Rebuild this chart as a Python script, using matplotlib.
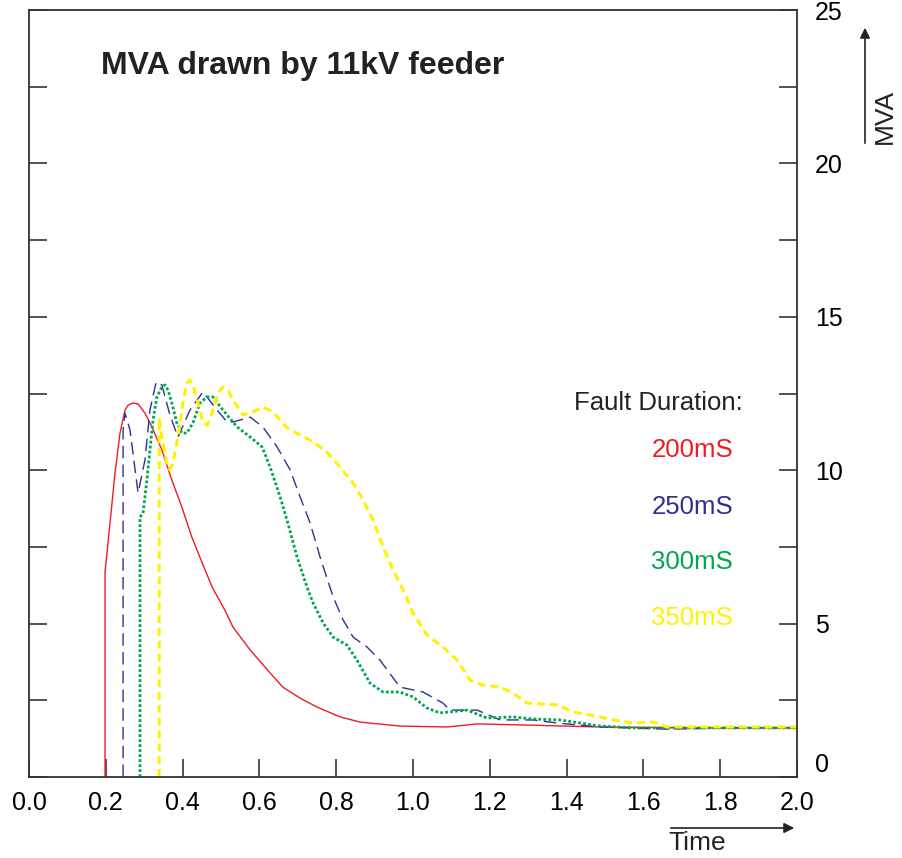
import matplotlib
matplotlib.use("Agg")
import matplotlib.pyplot as plt

plt.rcParams["font.family"] = ["Liberation Sans", "DejaVu Sans"]

# time (s) and MVA for each fault duration
t_200 = [0.198, 0.198, 0.211, 0.224, 0.237, 0.25, 0.258, 0.271, 0.284, 0.302, 0.320,
         0.346, 0.372, 0.398, 0.424, 0.451, 0.477, 0.510, 0.531, 0.576, 0.628, 0.661,
         0.706, 0.750, 0.810, 0.862, 0.966, 1.089, 1.167, 1.305, 1.487, 1.747, 2.0]
mva_200 = [0, 6.68, 8.28, 9.91, 11.21, 11.96, 12.12, 12.19, 12.16, 11.86, 11.41,
           10.66, 9.68, 8.80, 7.82, 6.98, 6.19, 5.44, 4.89, 4.14, 3.39, 2.93,
           2.57, 2.28, 1.96, 1.79, 1.66, 1.63, 1.73, 1.69, 1.63, 1.60, 1.60]

t_250 = [0.245, 0.245, 0.25, 0.263, 0.284, 0.302, 0.315, 0.331, 0.346, 0.367, 0.388,
         0.419, 0.453, 0.490, 0.516, 0.531, 0.576, 0.609, 0.646, 0.680, 0.706, 0.732,
         0.758, 0.792, 0.818, 0.844, 0.880, 0.914, 0.966, 1.026, 1.078, 1.096, 1.167,
         1.227, 1.3125, 1.375, 1.487, 1.661, 1.833, 2.0]
mva_250 = [0, 11.31, 11.86, 11.31, 9.26, 10.33, 11.96, 12.87, 12.78, 11.80, 11.08,
           11.96, 12.55, 11.96, 11.57, 11.57, 11.73, 11.41, 10.76, 10.01, 9.13, 8.28,
           7.17, 5.87, 5.12, 4.56, 4.24, 3.81, 2.93, 2.77, 2.41, 2.18, 2.18,
           1.86, 1.86, 1.76, 1.63, 1.56, 1.60, 1.60]

t_300 = [0.289, 0.289, 0.297, 0.307, 0.315, 0.323, 0.333, 0.346, 0.354, 0.362, 0.372,
         0.385, 0.398, 0.411, 0.427, 0.445, 0.464, 0.479, 0.505, 0.542, 0.576, 0.607,
         0.628, 0.654, 0.674, 0.698, 0.724, 0.740, 0.766, 0.792, 0.828, 0.854, 0.888,
         0.922, 0.966, 1.0, 1.036, 1.070, 1.141, 1.193, 1.260, 1.3125, 1.383, 1.487,
         1.573, 2.0]
mva_300 = [0, 8.47, 8.60, 9.68, 10.66, 11.64, 12.39, 12.71, 12.78, 12.61, 12.19,
           11.54, 11.21, 11.21, 11.54, 12.19, 12.39, 12.39, 11.96, 11.41, 11.08, 10.76,
           10.10, 9.13, 8.28, 7.17, 6.19, 5.67, 5.02, 4.56, 4.30, 3.81, 3.06,
           2.77, 2.77, 2.61, 2.25, 2.09, 2.18, 1.92, 1.96, 1.89, 1.86, 1.66,
           1.60, 1.60]

t_350 = [0.339, 0.339, 0.346, 0.359, 0.367, 0.375, 0.388, 0.401, 0.411, 0.419, 0.427,
         0.440, 0.453, 0.464, 0.477, 0.492, 0.505, 0.518, 0.531, 0.557, 0.583, 0.609,
         0.635, 0.672, 0.706, 0.740, 0.776, 0.810, 0.844, 0.870, 0.896, 0.922, 0.948,
         0.974, 1.0, 1.036, 1.078, 1.115, 1.148, 1.182, 1.227, 1.260, 1.297, 1.375,
         1.417, 1.487, 1.521, 1.573, 1.625, 1.661, 2.0]
mva_350 = [0, 11.70, 11.08, 10.23, 10.01, 10.23, 11.08, 12.19, 12.84, 12.94, 12.78,
           12.19, 11.54, 11.47, 11.86, 12.52, 12.71, 12.61, 12.29, 11.80, 11.90, 12.06,
           11.90, 11.38, 11.15, 10.92, 10.59, 10.10, 9.58, 9.03, 8.38, 7.50, 6.75,
           6.10, 5.35, 4.63, 4.24, 3.81, 3.16, 3.00, 2.93, 2.74, 2.41, 2.35,
           2.12, 1.96, 1.86, 1.76, 1.79, 1.63, 1.63]

durations = ["200mS", "250mS", "300mS", "350mS"]
colors = ["#ed1c24", "#2e3192", "#00a651", "#fff200"]

x_ticks = [0.0, 0.2, 0.4, 0.6, 0.8, 1.0, 1.2, 1.4, 1.6, 1.8, 2.0]
y_ticks = [0, 2.5, 5, 7.5, 10, 12.5, 15, 17.5, 20, 22.5, 25]
y_labels = ["0", "", "5", "", "10", "", "15", "", "20", "", "25"]

W, H = 903, 858


def fx(px):
    return px / W


def fy(py):
    return 1 - py / H


fig = plt.figure(figsize=(W / 100, H / 100), dpi=100)
ax = fig.add_axes([fx(29), fy(777), fx(797) - fx(29), fy(10) - fy(777)])

ax.plot(t_200, mva_200, color=colors[0], lw=1.0)
ax.plot(t_250, mva_250, color=colors[1], lw=1.0, dashes=(9, 4.5))
ax.plot(t_300, mva_300, color=colors[2], lw=2.0, dashes=(1, 0.8))
ax.plot(t_350, mva_350, color=colors[3], lw=2.2, dashes=(2.6, 1.6))

ax.set_xlim(0, 2)
ax.set_ylim(0, 25)
ax.set_xticks(x_ticks)
ax.set_xticklabels([f"{v:.1f}" for v in x_ticks])
ax.set_yticks(y_ticks)
ax.set_yticklabels(y_labels)

for s in ax.spines.values():
    s.set_color("#333333")
    s.set_linewidth(1.3)

ax.tick_params(axis="x", direction="in", length=13, width=1.2, color="#333333",
               labelsize=18, pad=10, top=False)
ax.tick_params(axis="y", direction="in", length=13, width=1.2, color="#333333",
               labelsize=18, pad=13, left=True, right=True,
               labelleft=False, labelright=True)
for lab in ax.get_yticklabels():
    if lab.get_text() == "0":
        lab.set_va("bottom")
    else:
        lab.set_va("center_baseline")

fig.text(fx(101), fy(66), "MVA drawn by 11kV feeder", fontsize=23, fontweight="bold",
         ha="left", va="center", color="#222222")

fig.text(fx(743), fy(403), "Fault Duration:", fontsize=18.5, ha="right", va="center",
         color="#222222")
for name, c, py in zip(durations, colors, [450, 507, 562, 618]):
    fig.text(fx(733), fy(py), name, fontsize=18.5, ha="right", va="center", color=c)

# axis labels with arrows
fig.text(fx(668), fy(843), "Time", fontsize=19, ha="left", va="center", color="#222222")
fig.add_artist(matplotlib.patches.FancyArrowPatch(
    (fx(668), fy(828)), (fx(797), fy(828)), transform=fig.transFigure,
    arrowstyle="-|>", mutation_scale=15, color="#222222", lw=1.2))
fig.text(fx(885), fy(116), "MVA", fontsize=19, rotation=90, ha="center", va="center",
         color="#222222")
fig.add_artist(matplotlib.patches.FancyArrowPatch(
    (fx(865), fy(146)), (fx(865), fy(25)), transform=fig.transFigure,
    arrowstyle="-|>", mutation_scale=15, color="#222222", lw=1.2))

fig.savefig("out.png", dpi=100)
